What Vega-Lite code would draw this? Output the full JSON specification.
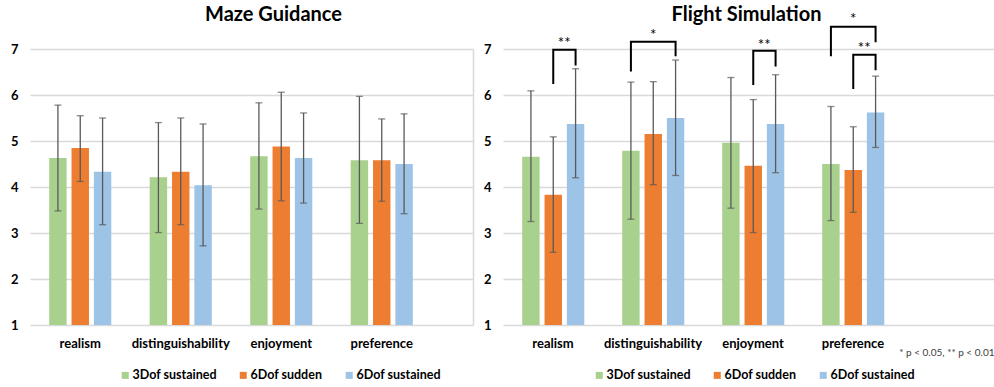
{
  "$schema": "https://vega.github.io/schema/vega-lite/v6.json",
  "background": "white",
  "padding": {"left": 10, "top": 5, "right": 0, "bottom": 0},
  "spacing": 30,
  "bounds": "flush",
  "config": {
    "font": "Lato",
    "view": {"stroke": null},
    "axis": {"labelFont": "Lato", "titleFont": "Lato"},
    "legend": {"labelFont": "Lato"}
  },
  "resolve": {"scale": {"color": "independent"}, "legend": {"color": "independent"}},
  "datasets": {
    "bars": [
      {"panel": "maze", "measure": "realism", "condition": "3Dof sustained", "mean": 4.63, "lo": 3.48, "hi": 5.78},
      {"panel": "maze", "measure": "realism", "condition": "6Dof sudden", "mean": 4.85, "lo": 4.12, "hi": 5.55},
      {"panel": "maze", "measure": "realism", "condition": "6Dof sustained", "mean": 4.33, "lo": 3.18, "hi": 5.50},
      {"panel": "maze", "measure": "distinguishability", "condition": "3Dof sustained", "mean": 4.21, "lo": 3.01, "hi": 5.40},
      {"panel": "maze", "measure": "distinguishability", "condition": "6Dof sudden", "mean": 4.33, "lo": 3.18, "hi": 5.50},
      {"panel": "maze", "measure": "distinguishability", "condition": "6Dof sustained", "mean": 4.04, "lo": 2.72, "hi": 5.37},
      {"panel": "maze", "measure": "enjoyment", "condition": "3Dof sustained", "mean": 4.67, "lo": 3.52, "hi": 5.83},
      {"panel": "maze", "measure": "enjoyment", "condition": "6Dof sudden", "mean": 4.88, "lo": 3.70, "hi": 6.06},
      {"panel": "maze", "measure": "enjoyment", "condition": "6Dof sustained", "mean": 4.63, "lo": 3.65, "hi": 5.61},
      {"panel": "maze", "measure": "preference", "condition": "3Dof sustained", "mean": 4.58, "lo": 3.21, "hi": 5.97},
      {"panel": "maze", "measure": "preference", "condition": "6Dof sudden", "mean": 4.58, "lo": 3.69, "hi": 5.48},
      {"panel": "maze", "measure": "preference", "condition": "6Dof sustained", "mean": 4.50, "lo": 3.42, "hi": 5.59},
      {"panel": "flight", "measure": "realism", "condition": "3Dof sustained", "mean": 4.66, "lo": 3.25, "hi": 6.09},
      {"panel": "flight", "measure": "realism", "condition": "6Dof sudden", "mean": 3.83, "lo": 2.58, "hi": 5.09},
      {"panel": "flight", "measure": "realism", "condition": "6Dof sustained", "mean": 5.37, "lo": 4.20, "hi": 6.57},
      {"panel": "flight", "measure": "distinguishability", "condition": "3Dof sustained", "mean": 4.79, "lo": 3.30, "hi": 6.28},
      {"panel": "flight", "measure": "distinguishability", "condition": "6Dof sudden", "mean": 5.15, "lo": 4.05, "hi": 6.29},
      {"panel": "flight", "measure": "distinguishability", "condition": "6Dof sustained", "mean": 5.50, "lo": 4.25, "hi": 6.76},
      {"panel": "flight", "measure": "enjoyment", "condition": "3Dof sustained", "mean": 4.96, "lo": 3.54, "hi": 6.38},
      {"panel": "flight", "measure": "enjoyment", "condition": "6Dof sudden", "mean": 4.46, "lo": 3.01, "hi": 5.90},
      {"panel": "flight", "measure": "enjoyment", "condition": "6Dof sustained", "mean": 5.37, "lo": 4.31, "hi": 6.44},
      {"panel": "flight", "measure": "preference", "condition": "3Dof sustained", "mean": 4.50, "lo": 3.27, "hi": 5.75},
      {"panel": "flight", "measure": "preference", "condition": "6Dof sudden", "mean": 4.37, "lo": 3.45, "hi": 5.31},
      {"panel": "flight", "measure": "preference", "condition": "6Dof sustained", "mean": 5.62, "lo": 4.86, "hi": 6.41}
    ],
    "brackets": [
      {"bracket": "A", "measure": "realism", "condition": "6Dof sudden", "y": 6.24, "ord": 1},
      {"bracket": "A", "measure": "realism", "condition": "6Dof sudden", "y": 6.985, "ord": 2},
      {"bracket": "A", "measure": "realism", "condition": "6Dof sustained", "y": 6.985, "ord": 3},
      {"bracket": "A", "measure": "realism", "condition": "6Dof sustained", "y": 6.64, "ord": 4},
      {"bracket": "B", "measure": "distinguishability", "condition": "3Dof sustained", "y": 6.51, "ord": 1},
      {"bracket": "B", "measure": "distinguishability", "condition": "3Dof sustained", "y": 7.16, "ord": 2},
      {"bracket": "B", "measure": "distinguishability", "condition": "6Dof sustained", "y": 7.16, "ord": 3},
      {"bracket": "B", "measure": "distinguishability", "condition": "6Dof sustained", "y": 6.84, "ord": 4},
      {"bracket": "C", "measure": "enjoyment", "condition": "6Dof sudden", "y": 6.22, "ord": 1},
      {"bracket": "C", "measure": "enjoyment", "condition": "6Dof sudden", "y": 6.96, "ord": 2},
      {"bracket": "C", "measure": "enjoyment", "condition": "6Dof sustained", "y": 6.96, "ord": 3},
      {"bracket": "C", "measure": "enjoyment", "condition": "6Dof sustained", "y": 6.62, "ord": 4},
      {"bracket": "D", "measure": "preference", "condition": "3Dof sustained", "y": 6.84, "ord": 1},
      {"bracket": "D", "measure": "preference", "condition": "3Dof sustained", "y": 7.485, "ord": 2},
      {"bracket": "D", "measure": "preference", "condition": "6Dof sustained", "y": 7.485, "ord": 3},
      {"bracket": "D", "measure": "preference", "condition": "6Dof sustained", "y": 7.146, "ord": 4},
      {"bracket": "E", "measure": "preference", "condition": "6Dof sudden", "y": 6.13, "ord": 1},
      {"bracket": "E", "measure": "preference", "condition": "6Dof sudden", "y": 6.876, "ord": 2},
      {"bracket": "E", "measure": "preference", "condition": "6Dof sustained", "y": 6.876, "ord": 3},
      {"bracket": "E", "measure": "preference", "condition": "6Dof sustained", "y": 6.54, "ord": 4}
    ],
    "stars": [
      {"measure": "realism", "condition": "6Dof sudden", "label": "**", "y": 7.12},
      {"measure": "distinguishability", "condition": "6Dof sudden", "label": "*", "y": 7.3},
      {"measure": "enjoyment", "condition": "6Dof sudden", "label": "**", "y": 7.09},
      {"measure": "preference", "condition": "6Dof sudden", "label": "*", "y": 7.65},
      {"measure": "preference", "condition": "6Dof sudden", "label": "**", "y": 7.03}
    ]
  },
  "hconcat": [
    {
      "width": 443,
      "height": 276,
      "title": {"text": "Maze Guidance", "fontSize": 20, "fontWeight": "bold", "font": "Lato", "color": "#000000", "anchor": "middle", "frame": "group", "dx": 22, "offset": 18},
      "data": {"name": "bars"},
      "transform": [{"filter": "datum.panel === 'maze'"}],
      "encoding": {
        "x": {
          "field": "measure", "type": "nominal",
          "sort": ["realism", "distinguishability", "enjoyment", "preference"],
          "scale": {"paddingInner": 0, "paddingOuter": 0.204, "align": 0},
          "axis": {"title": null, "labelAngle": 0, "domain": false, "ticks": false, "labelPadding": 12, "labelFontSize": 13, "labelFontWeight": "bold", "labelColor": "#000000"}
        },
        "xOffset": {
          "field": "condition", "type": "nominal",
          "sort": ["3Dof sustained", "6Dof sudden", "6Dof sustained"],
          "scale": {"paddingInner": 0.22, "paddingOuter": 0.86}
        }
      },
      "resolve": {"axis": {"y": "independent"}},
      "layer": [
        {
          "mark": {"type": "bar"},
          "encoding": {
            "y": {"field": "mean", "type": "quantitative", "scale": {"domain": [1, 7], "zero": false, "nice": false},
              "axis": {"title": null, "values": [1, 2, 3, 4, 5, 6, 7], "grid": true, "gridColor": "#d9d9d9", "gridWidth": 1.3, "domain": false, "ticks": false, "labelPadding": 12, "labelFontSize": 13, "labelFontWeight": "bold", "labelColor": "#000000"}},
            "y2": {"datum": 1},
            "color": {
              "field": "condition", "type": "nominal",
              "scale": {"domain": ["3Dof sustained", "6Dof sudden", "6Dof sustained"], "range": ["#A9D18E", "#ED7D31", "#9DC3E6"]},
              "legend": {"orient": "none", "legendX": 89, "legendY": 320, "direction": "horizontal", "title": null, "symbolType": "square", "symbolSize": 49, "symbolStrokeWidth": 0, "labelFontSize": 12.5, "labelFontWeight": "bold", "labelColor": "#000000", "columnPadding": 20, "labelOffset": 1}
            }
          }
        },
        {
          "mark": {"type": "rule", "color": "#595959", "strokeWidth": 1.3},
          "encoding": {
            "y": {"field": "lo", "type": "quantitative",
              "axis": {"orient": "right", "title": null, "labels": false, "ticks": false, "grid": false, "domain": true, "domainColor": "#d9d9d9", "domainWidth": 1.5}},
            "y2": {"field": "hi"}
          }
        },
        {
          "mark": {"type": "tick", "orient": "horizontal", "color": "#595959", "thickness": 1.3, "size": 7},
          "encoding": {"y": {"field": "lo", "type": "quantitative", "axis": null}}
        },
        {
          "mark": {"type": "tick", "orient": "horizontal", "color": "#595959", "thickness": 1.3, "size": 7},
          "encoding": {"y": {"field": "hi", "type": "quantitative", "axis": null}}
        }
      ]
    },
    {
      "width": 491,
      "height": 276,
      "title": {"text": "Flight Simulation", "fontSize": 20, "fontWeight": "bold", "font": "Lato", "color": "#000000", "anchor": "middle", "frame": "group", "dx": -2, "offset": -13},
      "data": {"name": "bars"},
      "transform": [{"filter": "datum.panel === 'flight'"}],
      "encoding": {
        "x": {
          "field": "measure", "type": "nominal",
          "sort": ["realism", "distinguishability", "enjoyment", "preference"],
          "scale": {"paddingInner": 0, "paddingOuter": 0.455, "align": 0},
          "axis": {"title": "* p < 0.05, ** p < 0.01", "titleAnchor": "end", "titleAlign": "right", "titleFontSize": 10, "titleFontWeight": "normal", "titleColor": "#404040", "titlePadding": -3, "labelAngle": 0, "domain": false, "ticks": false, "labelPadding": 12, "labelFontSize": 13, "labelFontWeight": "bold", "labelColor": "#000000"}
        },
        "xOffset": {
          "field": "condition", "type": "nominal",
          "sort": ["3Dof sustained", "6Dof sudden", "6Dof sustained"],
          "scale": {"paddingInner": 0.22, "paddingOuter": 0.86}
        }
      },
      "layer": [
        {
          "mark": {"type": "bar"},
          "encoding": {
            "y": {"field": "mean", "type": "quantitative", "scale": {"domain": [1, 7], "zero": false, "nice": false},
              "axis": {"title": null, "values": [1, 2, 3, 4, 5, 6, 7], "grid": true, "gridColor": "#d9d9d9", "gridWidth": 1.3, "domain": false, "ticks": false, "labelPadding": 12, "labelFontSize": 13, "labelFontWeight": "bold", "labelColor": "#000000"}},
            "y2": {"datum": 1},
            "color": {
              "field": "condition", "type": "nominal",
              "scale": {"domain": ["3Dof sustained", "6Dof sudden", "6Dof sustained"], "range": ["#A9D18E", "#ED7D31", "#9DC3E6"]},
              "legend": {"orient": "none", "legendX": 90, "legendY": 320, "direction": "horizontal", "title": null, "symbolType": "square", "symbolSize": 49, "symbolStrokeWidth": 0, "labelFontSize": 12.5, "labelFontWeight": "bold", "labelColor": "#000000", "columnPadding": 20, "labelOffset": 1}
            }
          }
        },
        {
          "mark": {"type": "rule", "color": "#595959", "strokeWidth": 1.3},
          "encoding": {"y": {"field": "lo", "type": "quantitative"}, "y2": {"field": "hi"}}
        },
        {
          "mark": {"type": "tick", "orient": "horizontal", "color": "#595959", "thickness": 1.3, "size": 7},
          "encoding": {"y": {"field": "lo", "type": "quantitative"}}
        },
        {
          "mark": {"type": "tick", "orient": "horizontal", "color": "#595959", "thickness": 1.3, "size": 7},
          "encoding": {"y": {"field": "hi", "type": "quantitative"}}
        },
        {
          "data": {"name": "brackets"},
          "mark": {"type": "line", "color": "#000000", "strokeWidth": 2, "strokeJoin": "miter", "clip": false},
          "encoding": {
            "y": {"field": "y", "type": "quantitative"},
            "detail": {"field": "bracket"},
            "order": {"field": "ord", "type": "quantitative"}
          }
        },
        {
          "data": {"name": "stars"},
          "transform": [{"filter": "datum.label === '**'"}],
          "mark": {"type": "text", "fontSize": 15, "color": "#000000", "baseline": "middle", "align": "center", "dx": 11, "clip": false},
          "encoding": {"y": {"field": "y", "type": "quantitative"}, "text": {"field": "label"}}
        },
        {
          "data": {"name": "stars"},
          "transform": [{"filter": "datum.label === '*'"}],
          "mark": {"type": "text", "fontSize": 15, "color": "#000000", "baseline": "middle", "align": "center", "clip": false},
          "encoding": {"y": {"field": "y", "type": "quantitative"}, "text": {"field": "label"}}
        }
      ]
    }
  ]
}
